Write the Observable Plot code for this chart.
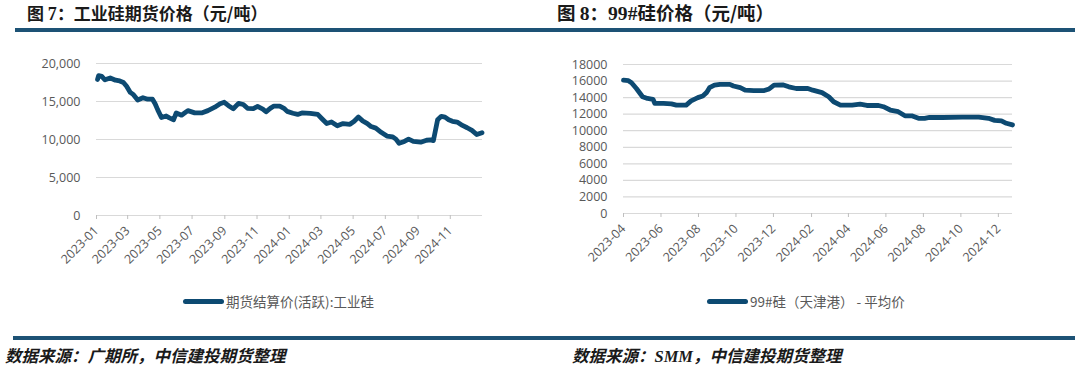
<!DOCTYPE html>
<html>
<head>
<meta charset="utf-8">
<script src="https://cdn.jsdelivr.net/npm/d3@7"></script>
<script src="https://cdn.jsdelivr.net/npm/@observablehq/plot@0.6"></script>
<style>
  html, body { margin: 0; padding: 0; background: #fff; }
  #page { position: relative; width: 1080px; height: 374px; overflow: hidden; font-family: "Noto Sans CJK SC", "Open Sans", sans-serif; }
  .title { position: absolute; top: 2px; font-size: 17px; font-weight: bold; color: #1a1a1a; line-height: 22px; white-space: nowrap; }
  .title .n { font-family: "Liberation Serif", serif; font-size: 1.06em; }
  .rule { position: absolute; height: 4px; background: #1d5275; }
  .foot { position: absolute; top: 344px; font-size: 16.5px; font-weight: bold; font-style: italic; color: #1a1a1a; line-height: 22px; white-space: nowrap; }
  .chart { position: absolute; top: 40px; }
  .chart svg { overflow: visible; }
  .legend { position: absolute; top: 292px; font-size: 13.5px; color: #595959; line-height: 18px; white-space: nowrap; display: flex; align-items: center; }
  .legend .sw { display: inline-block; width: 41px; height: 5px; border-radius: 3px; background: #0d4a72; margin-right: 2px; }
</style>
</head>
<body>
<div id="page">
  <div class="title" style="left:27px;">图 <span class="n">7</span>：工业硅期货价格（元/吨）</div>
  <div class="title" style="left:557px; top:1px; font-size:18.5px;">图 <span class="n">8</span>：<span class="n">99#</span>硅价格（元/吨）</div>
  <div class="rule" style="left:15px; width:1060px; top:28px;"></div>
  <div class="chart" id="c1" style="left:0px;"></div>
  <div class="chart" id="c2" style="left:540px;"></div>
  <div class="legend" style="left:183px;"><span class="sw"></span>期货结算价(活跃):工业硅</div>
  <div class="legend" style="left:707px;"><span class="sw"></span>99#硅（天津港） - 平均价</div>
  <div class="rule" style="left:13px; width:1062px; top:336px;"></div>
  <div class="foot" style="left:5px;">数据来源：广期所，中信建投期货整理</div>
  <div class="foot" style="left:572px;">数据来源：<span style="font-family:'Liberation Serif',serif;">SMM</span>，中信建投期货整理</div>
</div>
<script>
// ---- Chart 1: 工业硅期货结算价(活跃) ----
const futDates = ["2023-01-03","2023-01-05","2023-01-11","2023-01-17","2023-01-27","2023-02-06","2023-02-14","2023-02-21","2023-02-27","2023-03-06","2023-03-12","2023-03-20","2023-03-30","2023-04-08","2023-04-17","2023-04-22","2023-04-27","2023-05-04","2023-05-13","2023-05-19","2023-05-27","2023-06-01","2023-06-11","2023-06-23","2023-07-06","2023-07-19","2023-07-31","2023-08-13","2023-08-23","2023-08-31","2023-09-08","2023-09-17","2023-09-27","2023-10-06","2023-10-14","2023-10-25","2023-11-02","2023-11-12","2023-11-18","2023-11-26","2023-12-03","2023-12-14","2023-12-22","2023-12-28","2024-01-08","2024-01-17","2024-01-25","2024-02-10","2024-02-24","2024-03-02","2024-03-12","2024-03-21","2024-04-01","2024-04-12","2024-04-25","2024-05-03","2024-05-11","2024-05-19","2024-05-28","2024-06-04","2024-06-13","2024-06-23","2024-07-04","2024-07-15","2024-07-21","2024-07-27","2024-08-06","2024-08-14","2024-08-23","2024-09-06","2024-09-17","2024-09-25","2024-09-30","2024-10-08","2024-10-15","2024-10-22","2024-10-29","2024-11-05","2024-11-14","2024-11-24","2024-12-03","2024-12-12","2024-12-21","2024-12-31"];
const futValues = [17900,18400,18300,17850,18100,17800,17700,17500,17000,16200,15900,15200,15500,15300,15300,14700,13900,12900,13100,12850,12600,13500,13200,13800,13500,13500,13800,14250,14700,14900,14450,14050,14750,14600,14100,14050,14350,14000,13650,14100,14400,14400,14100,13700,13450,13300,13500,13450,13300,12800,12100,12300,11800,12100,12000,12400,12950,12450,12100,11700,11500,10950,10450,10350,10050,9500,9750,10050,9750,9650,9900,9950,9850,12600,13050,12950,12600,12400,12300,11850,11550,11200,10650,10900];
const futXTicks = ["2023-01","2023-03","2023-05","2023-07","2023-09","2023-11","2024-01","2024-03","2024-05","2024-07","2024-09","2024-11"];
const futYTicks = [0, 5000, 10000, 15000, 20000];
const futXDomain = ["2023-01-01","2025-01-01"];

// ---- Chart 2: 99#硅（天津港）平均价 ----
const spotDates = ["2023-04-01","2023-04-09","2023-04-14","2023-04-22","2023-05-02","2023-05-10","2023-05-19","2023-05-22","2023-06-05","2023-06-18","2023-06-26","2023-07-12","2023-07-20","2023-07-31","2023-08-08","2023-08-14","2023-08-19","2023-08-27","2023-09-05","2023-09-21","2023-09-27","2023-10-08","2023-10-16","2023-10-30","2023-11-16","2023-11-24","2023-12-02","2023-12-16","2023-12-26","2024-01-07","2024-01-26","2024-02-03","2024-02-18","2024-02-29","2024-03-08","2024-03-19","2024-04-07","2024-04-20","2024-05-01","2024-05-20","2024-05-28","2024-06-08","2024-06-21","2024-07-02","2024-07-13","2024-07-24","2024-08-03","2024-08-11","2024-09-01","2024-10-03","2024-10-30","2024-11-15","2024-11-25","2024-12-06","2024-12-14","2024-12-24"];
const spotValues = [16100,16050,15800,15100,14100,13900,13800,13300,13300,13250,13100,13100,13600,14000,14200,14600,15200,15500,15600,15600,15400,15200,14900,14850,14850,15050,15500,15550,15300,15100,15100,14900,14600,14100,13500,13100,13100,13200,13050,13050,12900,12500,12300,11800,11800,11500,11500,11600,11600,11650,11650,11500,11250,11200,10900,10700];
const spotXTicks = ["2023-04","2023-06","2023-08","2023-10","2023-12","2024-02","2024-04","2024-06","2024-08","2024-10","2024-12"];
const spotYTicks = [0,2000,4000,6000,8000,10000,12000,14000,16000,18000];
const spotXDomain = ["2023-04-01","2024-12-24"];

const lineColor = "#0d4a72";
const gridColor = "#d9d9d9";
const textColor = "#595959";
const parse = d3.utcParse("%Y-%m-%d");
const parseM = d3.utcParse("%Y-%m");

function makeChart({dates, values, xTicks, yTicks, xDomain, yDomain, yFormat, margins, yPad}) {
  const data = dates.map((d, i) => ({date: parse(d), value: values[i]}));
  return Plot.plot({
    width: 540,
    height: 250,
    ...margins,
    style: {fontFamily: "'Open Sans', 'Noto Sans CJK SC', sans-serif", fontSize: "12.5px", color: textColor, background: "transparent", overflow: "visible"},
    x: {type: "utc", domain: xDomain.map(parse), label: null},
    y: {domain: yDomain, label: null},
    marks: [
      Plot.gridY(yTicks, {stroke: gridColor, strokeOpacity: 1, strokeWidth: 1.2}),
      Plot.ruleY([0], {stroke: gridColor, strokeWidth: 1.2}),
      Plot.axisY(yTicks, {tickSize: 0, tickPadding: yPad, tickFormat: yFormat, fill: textColor}),
      Plot.axisX(xTicks.map(parseM), {tickFormat: d3.utcFormat("%Y-%m"), tickRotate: -45, tickSize: 4, tickPadding: 9, stroke: "#bfbfbf", fill: textColor}),
      Plot.lineY(data, {x: "date", y: "value", stroke: lineColor, strokeWidth: 4.8, strokeLinejoin: "round", strokeLinecap: "round"})
    ]
  });
}

document.getElementById("c1").appendChild(makeChart({
  dates: futDates, values: futValues, xTicks: futXTicks, yTicks: futYTicks,
  xDomain: futXDomain, yDomain: [0, 20000], yFormat: d3.format(","),
  margins: {marginTop: 23, marginBottom: 75, marginLeft: 96, marginRight: 58}, yPad: 16
}));
document.getElementById("c2").appendChild(makeChart({
  dates: spotDates, values: spotValues, xTicks: spotXTicks, yTicks: spotYTicks,
  xDomain: spotXDomain, yDomain: [0, 18000], yFormat: d => String(d),
  margins: {marginTop: 24, marginBottom: 77, marginLeft: 83, marginRight: 68}, yPad: 16
}));
</script>
</body>
</html>
